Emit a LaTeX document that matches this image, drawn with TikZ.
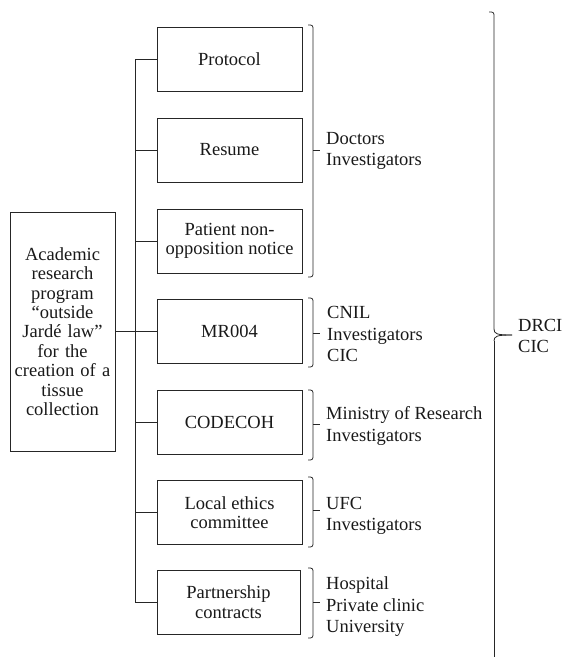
\documentclass[tikz,border=0pt]{standalone}
\usepackage{fontspec}
\setmainfont{Liberation Serif}
\newcommand\grpbrace[3]{%
  \draw[brc] (308,#1) -- (313,#1) -- (313,#2) -- (308,#2);
  \draw[ln] (313,#3) -- (320,#3);}
\begin{document}
\begin{tikzpicture}[x=1pt,y=-1pt,
  ln/.style={line width=0.8pt, draw=black!85},
  box/.style={ln, draw, minimum width=145pt, minimum height=64pt, inner sep=2pt,
    align=center, text=black!90, font=\fontsize{18.5}{19.5}\selectfont},
  lbl/.style={anchor=west, inner sep=0pt, align=left, text=black!90,
    font=\fontsize{18.5}{21.5}\selectfont},
  brc/.style={ln, rounded corners=2.5pt}]
\useasboundingbox (0,0) rectangle (565,657);
% main box
\node[ln, draw, minimum width=105pt, minimum height=239pt, text width=103pt, inner sep=1pt,
  align=center, text=black!90, font=\fontsize{18.5}{19.4}\selectfont] (main) at (62.5,331.5)
  {Academic\\research\\program\\“outside\\Jardé law”\\for the\\creation of a\\tissue\\collection};
% step boxes
\node[box] (proto) at (229.5,59.5) {Protocol};
\node[box] (resume) at (229.5,150) {Resume};
\node[box] (patient) at (229.5,241) {Patient non-\\opposition notice};
\node[box] (mr) at (229.5,331) {MR004};
\node[box] (codecoh) at (229.5,422) {CODECOH};
\node[box] (ethics) at (229.5,512.5) {Local ethics\\committee};
\node[box, minimum width=143pt] (partner) at (228.5,602) {Partnership\\contracts};
% trunk
\coordinate (tt) at (135,59.5);
\coordinate (tb) at (135,602);
\draw[ln] (tt) -- (tb);
\foreach \n in {proto,resume,patient,codecoh,ethics,partner}
  \draw[ln] (\n.west) -- (\n.west -| tt);
\draw[ln] (main.east |- mr.west) -- (mr.west);
% group braces
\grpbrace{25}{277}{150}
\grpbrace{298}{367}{333}
\grpbrace{390}{460}{424}
\grpbrace{477}{547}{510}
\grpbrace{568}{638}{602}
% big brace
\draw[brc] (489,12) -- (494,12) -- (494,329);
\draw[ln] (494,329) .. controls (494,334) and (497,335) .. (512,335);
\draw[ln] (512,335) .. controls (497,335) and (494,336) .. (494,341);
\draw[ln] (494,341) -- (494,660);
% labels
\node[lbl] (l1) at (326,151) {Doctors\\Investigators};
\node[lbl] (l2) at (327,334) {CNIL\\Investigators\\CIC};
\node[lbl] (l3) at (326,426) {Ministry of Research\\Investigators};
\node[lbl] (l4) at (326,516) {UFC\\Investigators};
\node[lbl] (l5) at (326,607) {Hospital\\Private clinic\\University};
\node[lbl] (l6) at (518,336) {DRCI\\CIC};
\end{tikzpicture}
\end{document}
